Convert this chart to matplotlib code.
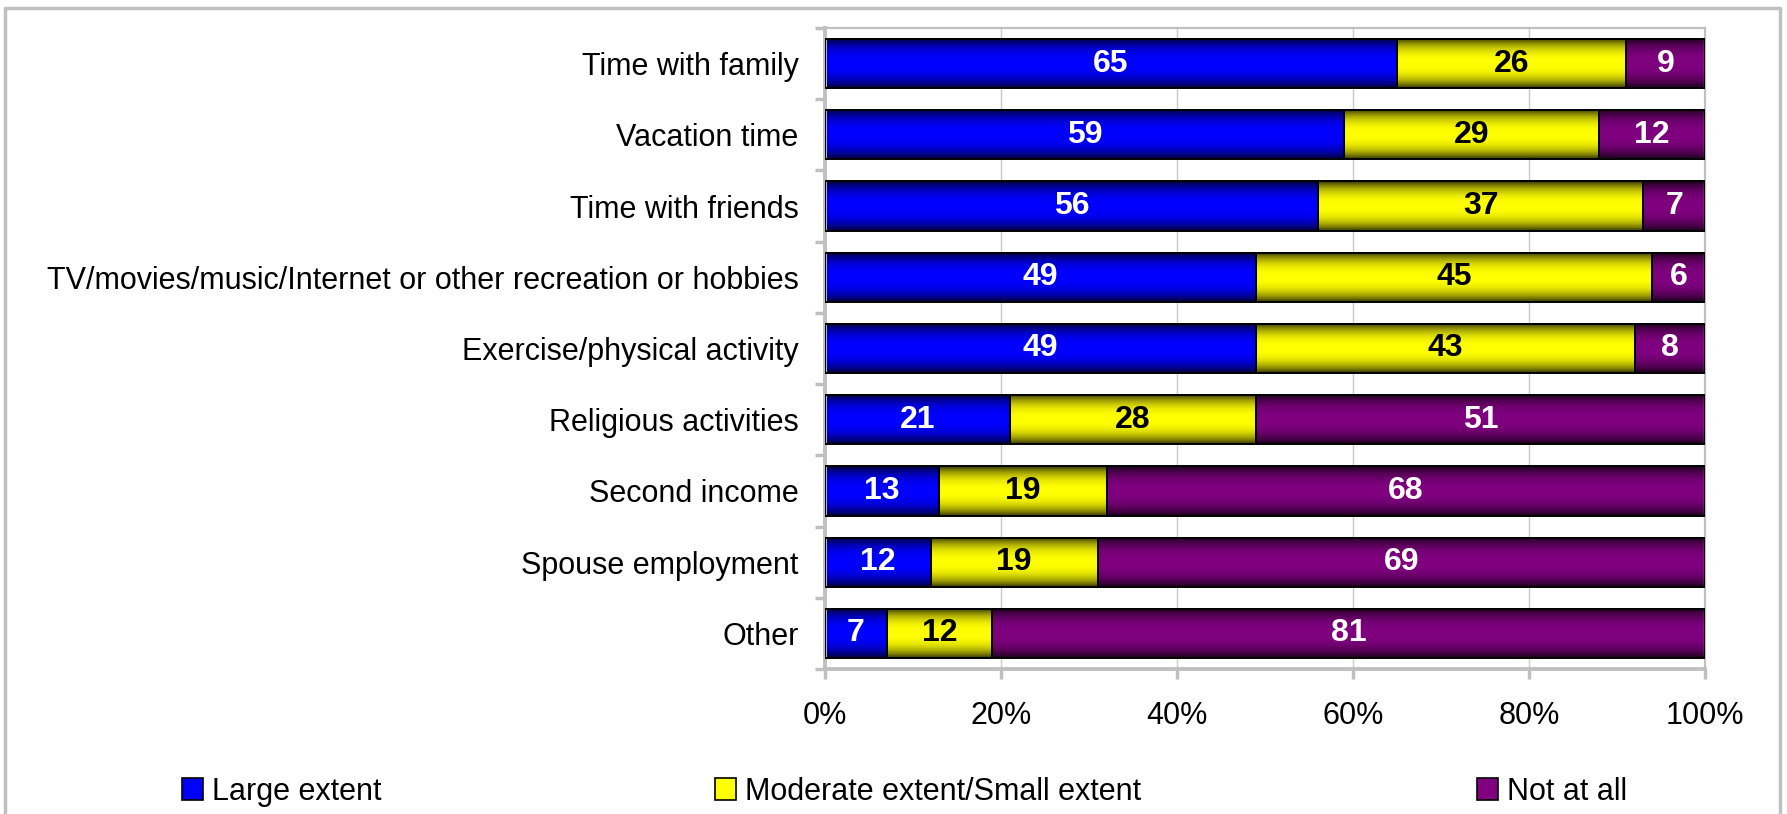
import numpy as np
import matplotlib.pyplot as plt
from matplotlib.patches import Patch
from matplotlib.lines import Line2D

plt.rcParams['font.family'] = ['Liberation Sans', 'DejaVu Sans']

categories = ["Time with family", "Vacation time", "Time with friends",
              "TV/movies/music/Internet or other recreation or hobbies",
              "Exercise/physical activity", "Religious activities",
              "Second income", "Spouse employment", "Other"]
large = [65, 59, 56, 49, 49, 21, 13, 12, 7]
moderate = [26, 29, 37, 45, 43, 28, 19, 19, 12]
not_at_all = [9, 12, 7, 6, 8, 51, 68, 69, 81]

series_names = ["Large extent", "Moderate extent/Small extent", "Not at all"]
series = [large, moderate, not_at_all]
colors = [(0, 0, 1), (1, 1, 0), (0.5, 0, 0.5)]
text_colors = ['white', 'black', 'white']

W, H = 1787, 814
fig = plt.figure(figsize=(W / 100, H / 100), dpi=100)
ax = fig.add_axes([825 / W, 1 - 669 / H, (1705 - 825) / W, (669 - 28) / H])

gray = '#c0c0c0'
y = np.arange(len(categories))
bh = 0.69

# vertical shading profile, dark at the bar edges
t = np.linspace(0, 1, 64)
shade = 1 - 0.78 * np.abs(2 * t - 1) ** 2.5

left = np.zeros(len(categories))
for vals, col, tc in zip(series, colors, text_colors):
    vals = np.array(vals, dtype=float)
    bars = ax.barh(y, vals, left=left, height=bh, facecolor='none',
                   edgecolor='black', linewidth=1.4, zorder=3)
    grad = shade[:, None, None] * np.array(col)[None, None, :]
    for b, v in zip(bars, vals):
        x0, y0 = b.get_x(), b.get_y()
        ax.imshow(grad, extent=[x0, x0 + b.get_width(), y0, y0 + b.get_height()],
                  aspect='auto', interpolation='bilinear', zorder=2)
        ax.text(x0 + v / 2, y0 + bh / 2, f"{v:.0f}", ha='center', va='center',
                color=tc, fontsize=23, fontweight='bold', zorder=4)
    left += vals

ax.set_xlim(0, 100)
ax.set_ylim(len(categories) - 0.5, -0.5)

ax.set_xticks(np.arange(0, 101, 20))
ax.set_xticklabels([f"{v}%" for v in range(0, 101, 20)])
ax.set_yticks(y)
ax.set_yticklabels(categories)
ax.set_yticks(np.arange(-0.5, len(categories), 1), minor=True)

ax.tick_params(axis='y', which='major', length=0, pad=19, labelsize=22)
ax.tick_params(axis='y', which='minor', length=7, width=2.5, color=gray)
ax.tick_params(axis='x', which='major', length=7, width=2.5, color=gray,
               pad=16, labelsize=22)

ax.grid(axis='x', color='#c8c8c8', linewidth=1)
ax.set_axisbelow(True)

for side in ['left', 'bottom']:
    ax.spines[side].set_color(gray)
    ax.spines[side].set_linewidth(2.8)
for side in ['top', 'right']:
    ax.spines[side].set_color(gray)
    ax.spines[side].set_linewidth(1.6)

# outer chart frame (left, top, right)
fx = [5 / W, 5 / W, 1780 / W, 1780 / W]
fy = [0, 1 - 8 / H, 1 - 8 / H, 0]
fig.add_artist(Line2D(fx, fy, transform=fig.transFigure, color=gray, linewidth=2.5))

# legend entries, spread like the original
leg_x = [182, 715, 1477]
for name, col, lx in zip(series_names, colors, leg_x):
    h = Patch(facecolor=col, edgecolor='black', linewidth=1.2)
    fig.legend(handles=[h], labels=[name], loc='center left',
               bbox_to_anchor=(lx / W, 1 - 792 / H), frameon=False,
               fontsize=22, borderpad=0, borderaxespad=0,
               handlelength=0.69, handleheight=0.72, handletextpad=0.3)

fig.savefig("out.png", dpi=100)
